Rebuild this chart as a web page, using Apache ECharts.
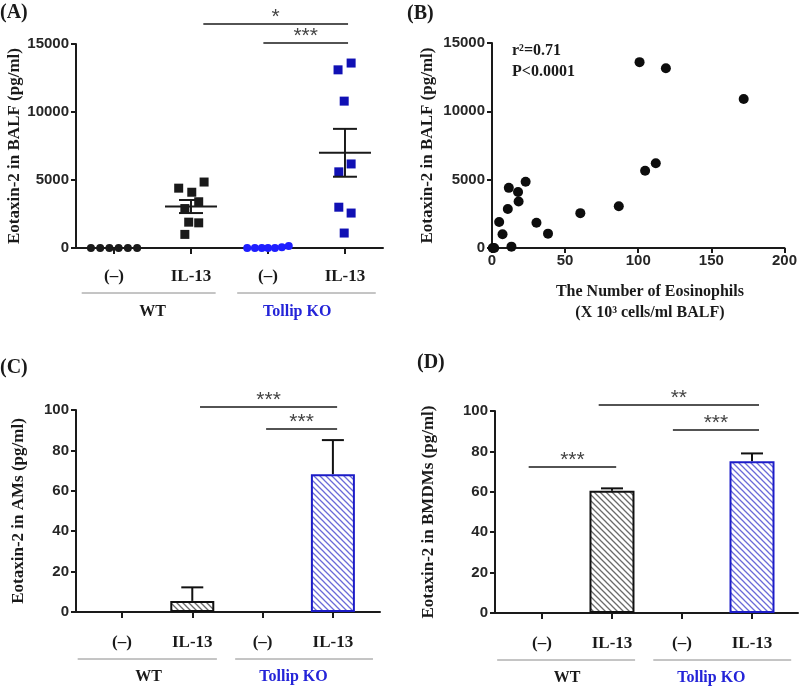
<!DOCTYPE html>
<html>
<head>
<meta charset="utf-8">
<script src="https://cdn.jsdelivr.net/npm/echarts@6/dist/echarts.min.js"></script>
<style>
html,body{margin:0;padding:0;background:#fff;}
#c{width:800px;height:687px;}
</style>
</head>
<body>
<div id="c"></div>
<script>
// ---------- data ----------
const catLabels = ['(–)', 'IL-13', '(–)', 'IL-13'];
const groupLabels = ['WT', 'Tollip KO'];
const panelTitles = ['(A)', '(B)', '(C)', '(D)'];

// Panel A: Eotaxin-2 in BALF (pg/ml), individual mice
const aWtCtrl = [0, 0, 0, 0, 0, 0];
const aWtCtrlJitter = [-0.30, -0.18, -0.06, 0.06, 0.18, 0.30];
const aWtIl13 = [4400, 4100, 4850, 3400, 2900, 1900, 1850, 1000];
const aWtIl13Jitter = [-0.16, 0.01, 0.17, 0.10, -0.08, -0.03, 0.10, -0.08];
const aKoCtrl = [0, 0, 0, 0, 0, 50, 150];
const aKoCtrlJitter = [-0.27, -0.17, -0.08, 0.0, 0.09, 0.18, 0.27];
const aKoIl13 = [13100, 13600, 10800, 6180, 5600, 3000, 2570, 1100];
const aKoIl13Jitter = [-0.09, 0.08, -0.01, 0.08, -0.08, -0.08, 0.08, -0.01];
const aMean = [3050, 7000];
const aSem = [480, 1760];

// Panel B: correlation
const bEosinophils = [0.5, 1.5, 13.3, 4.9, 7.2, 10.8, 11.5, 17.8, 18.2, 23.0, 30.4, 38.3, 60.4, 86.7, 100.9, 104.7, 112.0, 118.9, 172.1];
const bEotaxin = [0, 0, 100, 1900, 1000, 2850, 4400, 4100, 3400, 4850, 1850, 1050, 2550, 3050, 13600, 5650, 6200, 13150, 10900];
const bStats = ['r²=0.71', 'P<0.0001'];

// Panel C: Eotaxin-2 in AMs (pg/ml)
const cMeans = [0, 5.5, 0, 68.2];
const cErr = [0, 6.7, 0, 16.9];
// Panel D: Eotaxin-2 in BMDMs (pg/ml)
const dMeans = [0, 60.5, 0, 75.1];
const dErr = [0, 1.2, 0, 3.9];

// ---------- styles ----------
const SERIF = '"Liberation Serif","Times New Roman",serif';
const SANS = '"Liberation Sans",Arial,sans-serif';
const BLACK = '#1a1a1a';
const BLUE_LIGHT = '#1f1fff';
const BLUE_DARK = '#1010b4';
const BLUE_LABEL = '#2424d8';

function hatch(color) {
  const c = document.createElement('canvas');
  c.width = 6; c.height = 6;
  const g = c.getContext('2d');
  g.fillStyle = '#fff'; g.fillRect(0, 0, 6, 6);
  g.strokeStyle = color; g.lineWidth = 1.3;
  g.beginPath();
  g.moveTo(-1, -1); g.lineTo(7, 7);
  g.moveTo(-4, 2); g.lineTo(4, 10);
  g.moveTo(2, -4); g.lineTo(10, 4);
  g.stroke();
  return c;
}

function yAxisCommon(grid, max, interval, name, gap) {
  return {
    type: 'value', gridIndex: grid, min: 0, max: max, interval: interval,
    name: name, nameLocation: 'middle', nameGap: gap, nameRotate: 90,
    nameTextStyle: { fontFamily: SERIF, fontWeight: 'bold', fontSize: 17, color: BLACK },
    axisLine: { show: true, onZero: false, lineStyle: { color: BLACK, width: 2 } },
    axisTick: { show: true, length: 5, lineStyle: { color: BLACK, width: 2 } },
    axisLabel: { fontFamily: SANS, fontWeight: 'bold', fontSize: 15, color: '#262626', margin: 7,
      formatter: v => String(v) },
    splitLine: { show: false }
  };
}
function catXAxis(grid, min, max, margin) {
  return {
    type: 'value', gridIndex: grid, min: min, max: max,
    axisLine: { show: true, onZero: false, lineStyle: { color: BLACK, width: 2 } },
    axisTick: { show: true, customValues: [0, 1, 2, 3], length: 6, lineStyle: { color: BLACK, width: 2 } },
    axisLabel: {
      customValues: [0, 1, 2, 3],
      formatter: v => catLabels[Math.round(v)] || '',
      fontFamily: SERIF, fontWeight: 'bold', fontSize: 17, color: BLACK, margin: margin
    },
    splitLine: { show: false }
  };
}

const meanSemData = [[1, aMean[0], aSem[0]], [3, aMean[1], aSem[1]]];
function renderMeanSem(params, api) {
  const x = api.value(0), m = api.value(1), s = api.value(2);
  const pm = api.coord([x, m]), pu = api.coord([x, m + s]), pl = api.coord([x, m - s]);
  const st = { stroke: BLACK, lineWidth: 2 };
  return { type: 'group', children: [
    { type: 'line', shape: { x1: pm[0] - 26, y1: pm[1], x2: pm[0] + 26, y2: pm[1] }, style: st },
    { type: 'line', shape: { x1: pm[0], y1: pu[1], x2: pm[0], y2: pl[1] }, style: st },
    { type: 'line', shape: { x1: pm[0] - 12, y1: pu[1], x2: pm[0] + 12, y2: pu[1] }, style: st },
    { type: 'line', shape: { x1: pm[0] - 12, y1: pl[1], x2: pm[0] + 12, y2: pl[1] }, style: st }
  ] };
}
function renderErr(params, api) {
  const x = api.value(0), m = api.value(1), e = api.value(2);
  const p0 = api.coord([x, m]), p1 = api.coord([x, m + e]);
  const st = { stroke: '#111', lineWidth: 2 };
  return { type: 'group', children: [
    { type: 'line', shape: { x1: p0[0], y1: p0[1], x2: p0[0], y2: p1[1] }, style: st },
    { type: 'line', shape: { x1: p0[0] - 11, y1: p1[1], x2: p0[0] + 11, y2: p1[1] }, style: st }
  ] };
}
function barData(means) {
  const out = [];
  means.forEach((v, i) => {
    if (v > 0) {
      const ko = i >= 2;
      out.push({ value: [i, v], itemStyle: {
        color: { image: hatch(ko ? '#6a6ad8' : '#6a6a6a'), repeat: 'repeat' },
        borderColor: ko ? '#1c1cc8' : '#111', borderWidth: 2 } });
    }
  });
  return out;
}
function errData(means, errs) {
  const out = [];
  means.forEach((v, i) => { if (v > 0) out.push([i, v, errs[i]]); });
  return out;
}
const zip = (xs, ys) => xs.map((x, i) => [x, ys[i]]);

const option = {
  backgroundColor: '#fff',
  animation: false,
  grid: [
    { left: 76, top: 44, width: 307, height: 204 },
    { left: 492, top: 43, width: 296, height: 205 },
    { left: 76, top: 410, width: 304, height: 202 },
    { left: 495, top: 411, width: 303, height: 202 }
  ],
  xAxis: [
    catXAxis(0, -0.494, 3.494, 20),
    {
      type: 'value', gridIndex: 1, min: 0, max: 200, interval: 50,
      axisLine: { show: true, onZero: false, lineStyle: { color: BLACK, width: 2 } },
      axisTick: { show: true, length: 5, lineStyle: { color: BLACK, width: 2 } },
      axisLabel: { fontFamily: SANS, fontWeight: 'bold', fontSize: 15, color: '#262626', margin: 5 },
      splitLine: { show: false }
    },
    catXAxis(2, -0.654, 3.670, 22),
    catXAxis(3, -0.671, 3.657, 22)
  ],
  yAxis: [
    yAxisCommon(0, 15000, 5000, 'Eotaxin-2 in BALF (pg/ml)', 49),
    yAxisCommon(1, 15000, 5000, 'Eotaxin-2 in BALF (pg/ml)', 56),
    yAxisCommon(2, 100, 20, 'Eotaxin-2 in AMs (pg/ml)', 49),
    yAxisCommon(3, 100, 20, 'Eotaxin-2 in BMDMs (pg/ml)', 58)
  ],
  series: [
    { type: 'scatter', xAxisIndex: 0, yAxisIndex: 0, symbol: 'circle', symbolSize: 8,
      itemStyle: { color: BLACK, opacity: 1 }, data: zip(aWtCtrlJitter.map(j => 0 + j), aWtCtrl), clip: false },
    { type: 'scatter', xAxisIndex: 0, yAxisIndex: 0, symbol: 'rect', symbolSize: 9,
      itemStyle: { color: BLACK, opacity: 1 }, data: zip(aWtIl13Jitter.map(j => 1 + j), aWtIl13) },
    { type: 'scatter', xAxisIndex: 0, yAxisIndex: 0, symbol: 'circle', symbolSize: 8,
      itemStyle: { color: BLUE_LIGHT, opacity: 1 }, data: zip(aKoCtrlJitter.map(j => 2 + j), aKoCtrl), clip: false },
    { type: 'scatter', xAxisIndex: 0, yAxisIndex: 0, symbol: 'rect', symbolSize: 9,
      itemStyle: { color: BLUE_DARK, opacity: 1 }, data: zip(aKoIl13Jitter.map(j => 3 + j), aKoIl13) },
    { type: 'custom', xAxisIndex: 0, yAxisIndex: 0, renderItem: renderMeanSem, data: meanSemData, z: 5 },

    { type: 'scatter', xAxisIndex: 1, yAxisIndex: 1, symbol: 'circle', symbolSize: 10,
      itemStyle: { color: '#0d0d0d', opacity: 1 }, data: zip(bEosinophils, bEotaxin), clip: false },

    { type: 'bar', xAxisIndex: 2, yAxisIndex: 2, barWidth: 44, data: barData(cMeans) },
    { type: 'custom', xAxisIndex: 2, yAxisIndex: 2, renderItem: renderErr, data: errData(cMeans, cErr), z: 1 },
    { type: 'bar', xAxisIndex: 3, yAxisIndex: 3, barWidth: 45, data: barData(dMeans) },
    { type: 'custom', xAxisIndex: 3, yAxisIndex: 3, renderItem: renderErr, data: errData(dMeans, dErr), z: 1 }
  ]
};

const chart = echarts.init(document.getElementById('c'));
chart.setOption(option);

// ---------- annotations placed through the axes ----------
const G = [];
function px(grid, x, y) { return chart.convertToPixel({ gridIndex: grid }, [x, y]); }
function addLine(x1, y1, x2, y2, color, w) {
  G.push({ type: 'line', shape: { x1, y1, x2, y2 }, style: { stroke: color, lineWidth: w }, z: 10 });
}
function addText(x, y, text, opt) {
  G.push(Object.assign({ type: 'text', x, y, z: 10, style: Object.assign({
    text, fontFamily: SERIF, fontWeight: 'bold', fontSize: 16, fill: BLACK,
    align: 'center', verticalAlign: 'middle' }, opt || {}) }));
}
function sig(grid, x1, x2, yv, stars) {
  const a = px(grid, x1, yv), b = px(grid, x2, yv);
  addLine(a[0], a[1], b[0], b[1], BLACK, 1.5);
  addText((a[0] + b[0]) / 2, a[1] + 4, stars, { fontFamily: SANS, fontWeight: 'normal', fontSize: 21, fill: '#444', verticalAlign: 'bottom' });
}
function groups(grid, lines, labelX, axisY, lineOff, labelOff) {
  const y0 = px(grid, 0, axisY)[1];
  lines.forEach(l => {
    const a = px(grid, l[0], axisY), b = px(grid, l[1], axisY);
    addLine(a[0], y0 + lineOff, b[0], y0 + lineOff, '#8a8a8a', 1);
  });
  labelX.forEach((lx, i) => {
    addText(px(grid, lx, axisY)[0], y0 + labelOff, groupLabels[i], { fill: i === 0 ? BLACK : BLUE_LABEL });
  });
}

// Panel A
sig(0, 1.16, 3.04, 16470, '*');
sig(0, 1.94, 3.04, 15070, '***');
groups(0, [[-0.42, 1.32], [1.60, 3.40]], [0.5, 2.38], 0, 45, 64);
// Panel C
sig(2, 1.11, 3.06, 101.5, '***');
sig(2, 2.05, 3.06, 90.6, '***');
groups(2, [[-0.63, 1.35], [1.61, 3.57]], [0.38, 2.44], 0, 47, 65);
// Panel D
sig(3, 0.81, 3.10, 103, '**');
sig(3, 1.87, 3.10, 90.6, '***');
sig(3, -0.19, 1.06, 72.3, '***');
groups(3, [[-0.64, 1.33], [1.59, 3.56]], [0.36, 2.42], 0, 47, 65);

// Panel B stats and x-axis title
addText(512, 51, bStats[0], { align: 'left' });
addText(512, 72, bStats[1], { align: 'left' });
const bMid = px(1, 108, 0);
addText(bMid[0], bMid[1] + 44, 'The Number of Eosinophils');
addText(bMid[0], bMid[1] + 65, '(X 10³ cells/ml BALF)');

// Panel titles
addText(0, 13, panelTitles[0], { align: 'left', fontSize: 20 });
addText(407, 14, panelTitles[1], { align: 'left', fontSize: 20 });
addText(0, 368, panelTitles[2], { align: 'left', fontSize: 20 });
addText(417, 363, panelTitles[3], { align: 'left', fontSize: 20 });

chart.setOption({ graphic: G });
</script>
</body>
</html>
